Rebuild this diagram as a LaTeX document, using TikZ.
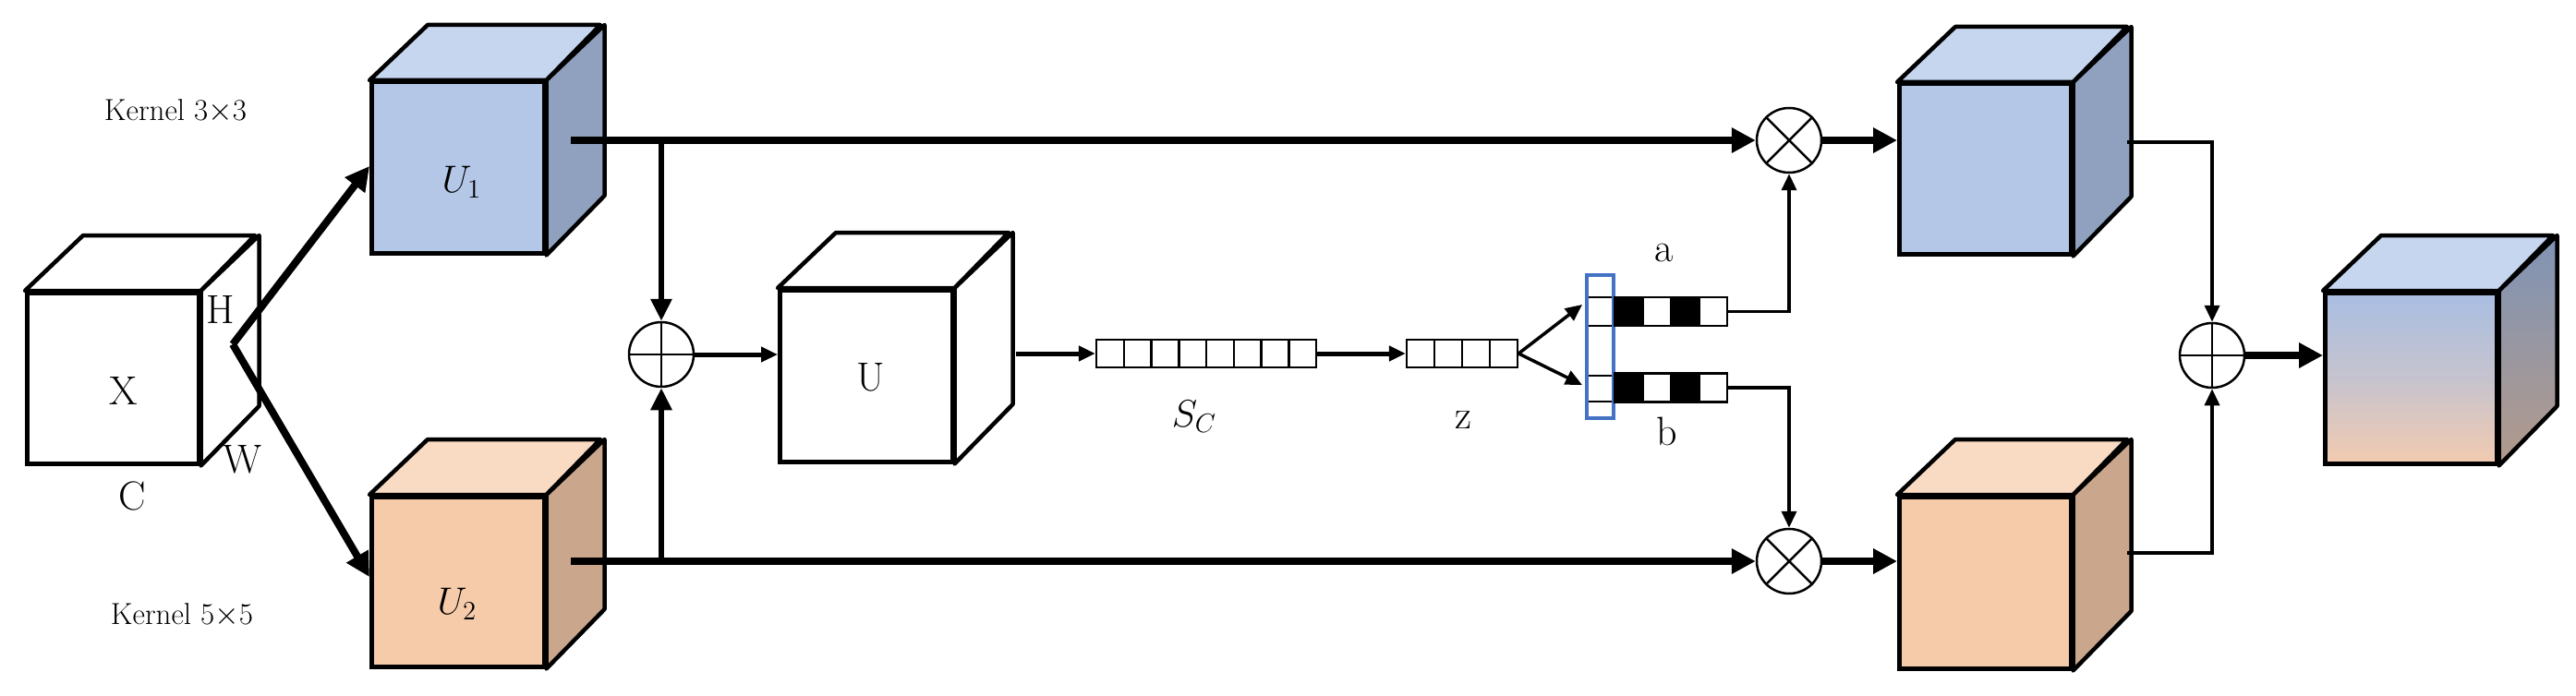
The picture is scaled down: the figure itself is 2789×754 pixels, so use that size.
\documentclass[tikz,border=0pt]{standalone}
\usetikzlibrary{arrows.meta,shapes.geometric}
\definecolor{bF}{HTML}{B4C7E7}\definecolor{bT}{HTML}{C6D6EF}\definecolor{bS}{HTML}{8FA1BE}
\definecolor{oF}{HTML}{F6CBAA}\definecolor{oT}{HTML}{F9DAC2}\definecolor{oS}{HTML}{C9A68C}
\definecolor{gF1}{HTML}{A9BEE2}\definecolor{gF2}{HTML}{F2CBB0}\definecolor{gS1}{HTML}{7F94B6}\definecolor{gS2}{HTML}{B39A8B}
\definecolor{colblue}{HTML}{4472C4}
\newcommand\mycube[8]{%
  \node[cubeface, fill=#6, minimum width=#4pt, minimum height=#5pt, anchor=north west] (#1) at (#2,#3) {};
  \draw[cubeline, fill=#7] (#1.north west) -- ++(63,-60) -- ++(#4,0) -- (#1.north east) -- cycle;
  \draw[cubeline, fill=#8] (#1.north east) -- ++(63,-60) -- ++(0,#5) -- (#1.south east) -- cycle;}
\tikzset{
  cubeface/.style={draw, line width=4.5pt, inner sep=0pt},
  cubeline/.style={line width=4.5pt, line join=round},
  thickarr/.style={line width=8pt, -{Triangle[length=26pt,width=26pt]}},
  thinarr/.style={line width=3.5pt, -{Triangle[length=18pt,width=16pt]}},
  thinline/.style={line width=3.5pt},
  op/.style={draw, line width=2.5pt, ellipse, minimum width=70pt, minimum height=70pt, inner sep=0pt, fill=white},
  cell/.style={draw, line width=2.5pt, minimum width=29.75pt, minimum height=30pt, inner sep=0pt, fill=white},
  lbl/.style={font=\fontsize{22}{25}\selectfont, scale=2},
  klbl/.style={font=\fontsize{20}{24}\selectfont, scale=1.65},
}
\begin{document}
\begin{tikzpicture}[x=1pt,y=-1pt]
\useasboundingbox (0,0) rectangle (2789,754);
% cubes
\mycube{X}{27}{315}{186}{185}{white}{white}{white}
\mycube{U1}{400}{87}{187}{185}{bF}{bT}{bS}
\mycube{U2}{400}{536}{187}{184}{oF}{oT}{oS}
\mycube{U}{842}{312}{187}{186}{white}{white}{white}
\mycube{V1}{2054}{89}{186}{184}{bF}{bT}{bS}
\mycube{V2}{2054}{536}{186}{186}{oF}{oT}{oS}
% final gradient cube
\node[cubeface, top color=gF1, bottom color=gF2, middle color=gF1!60!gF2, minimum width=186pt, minimum height=185pt, anchor=north west] (F) at (2515,315) {};
\draw[cubeline, fill=bT] (F.north west) -- ++(63,-60) -- ++(186,0) -- (F.north east) -- cycle;
\draw[cubeline, top color=gS1, bottom color=gS2] (F.north east) -- ++(63,-60) -- ++(0,185) -- (F.south east) -- cycle;
% labels
\node[lbl] at (134,423) {X};
\node[lbl] at (239,335) {H};
\node[lbl] at (263,498) {W};
\node[lbl] at (143,537) {C};
\node[klbl] at (190,120) {Kernel 3$\times$3};
\node[klbl] at (197,666) {Kernel 5$\times$5};
\node[lbl] at (500,197) {$U_1$};
\node[lbl] at (495,654) {$U_2$};
\node[lbl] at (943,409) {U};
% split arrows
\coordinate (sp) at (252,373);
\draw[thickarr] (sp) -- (U1.west |- 0,180);
\draw[thickarr] (sp) -- (U2.west |- 0,625);
% operators
\node[op] (plus1) at (716,384) {};
\draw[line width=2.5pt] (plus1.north) -- (plus1.south) (plus1.west) -- (plus1.east);
\node[op] (mul1) at (1937,152) {};
\node[op] (mul2) at (1937,608) {};
\foreach \m in {mul1,mul2}{\draw[line width=2.5pt] (\m.north west) -- (\m.south east) (\m.north east) -- (\m.south west);}
\node[op] (plus2) at (2395,385) {};
\draw[line width=2.5pt] (plus2.north) -- (plus2.south) (plus2.west) -- (plus2.east);
% main lines
\coordinate (u1o) at (618,152);
\coordinate (u2o) at (618,608);
\draw[thickarr] (u1o) -- (mul1.west);
\draw[thickarr] (u2o) -- (mul2.west);
\draw[thinline, line width=6pt, -{Triangle[length=24pt,width=22pt]}] (716,152) -- (plus1.north);
\draw[thinline, line width=6pt, -{Triangle[length=24pt,width=22pt]}] (716,608) -- (plus1.south);
\draw[thinarr, line width=5pt] (plus1.east) -- (U.west |- plus1);
% Sc vector
\foreach \i in {0,...,7}{\node[cell] (s\i) at ({1202+\i*29.75},383) {};}
\node[lbl] at (1293,451) {$S_C$};
\foreach \i in {0,...,3}{\node[cell] (z\i) at ({1538+\i*30},383) {};}
\node[lbl] at (1584,455) {z};
\draw[thinarr, line width=5pt] (1100,383) -- (s0.west);
\draw[thinarr, line width=5pt] (s7.east) -- (z0.west);
% attention column
\draw[line width=2.5pt] (1718,322) -- (1747,322) (1718,353) -- (1747,353) (1718,407) -- (1747,407) (1718,435) -- (1747,435);
\draw[colblue, line width=3.5pt] (1718,298) rectangle (1747,453);
\foreach \yy/\nm in {337.5/a,420/b}{
  \foreach \i/\c in {0/black,1/white,2/black,3/white}{
    \node[draw, line width=2.5pt, fill=\c, minimum width=30.5pt, minimum height=31pt, inner sep=0pt] (\nm\i) at ({1763+\i*30.5},\yy) {};}}
\node[lbl] at (1802,274) {a};
\node[lbl] at (1805,467) {b};
\draw[thinarr] (z3.east) -- (1713,330);
\draw[thinarr] (z3.east) -- (1713,417);
\draw[thinarr] (a3.east) -| (mul1.south);
\draw[thinarr] (b3.east) -| (mul2.north);
% outputs
\draw[thickarr] (mul1.east) -- (V1.west |- mul1);
\draw[thickarr] (mul2.east) -- (V2.west |- mul2);
\draw[thinarr] (2303,154) -| (plus2.north);
\draw[thinarr] (2303,599) -| (plus2.south);
\draw[thickarr] (plus2.east) -- (F.west |- plus2);
\end{tikzpicture}
\end{document}
